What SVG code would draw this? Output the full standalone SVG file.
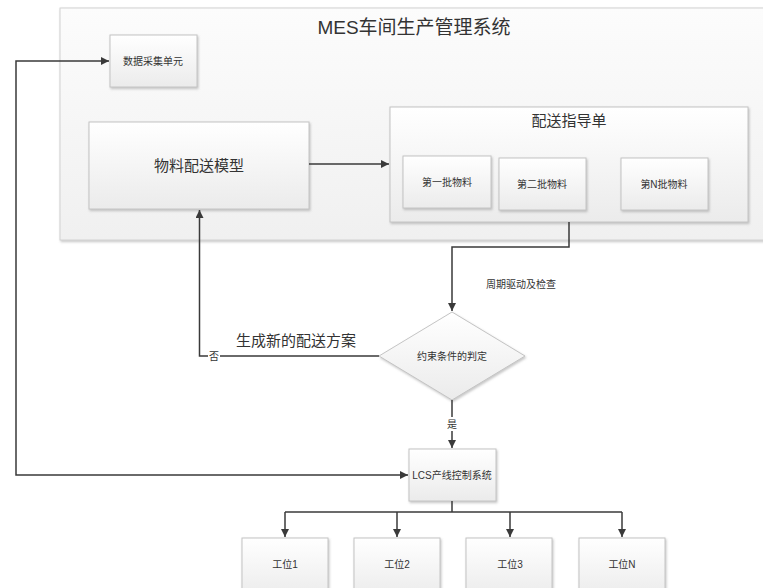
<svg xmlns="http://www.w3.org/2000/svg" width="763" height="588" viewBox="0 0 763 588">
<defs>
<linearGradient id="gBox" x1="0" y1="0" x2="0" y2="1">
<stop offset="0" stop-color="#ffffff"/>
<stop offset="1" stop-color="#ebebeb"/>
</linearGradient>
<linearGradient id="gOuter" x1="0" y1="0" x2="0" y2="1">
<stop offset="0" stop-color="#fcfcfc"/>
<stop offset="1" stop-color="#f0f0f0"/>
</linearGradient>
<filter id="sh" x="-10%" y="-10%" width="125%" height="125%">
<feDropShadow dx="1" dy="1.5" stdDeviation="0.8" flood-color="#808080" flood-opacity="0.45"/>
</filter>
<marker id="arr" viewBox="0 0 10 10" refX="10" refY="5" markerWidth="8" markerHeight="8" markerUnits="userSpaceOnUse" orient="auto-start-reverse">
<path d="M0,0 L10,5 L0,10 Z" fill="#3a3a3a"/>
</marker>
<style>
.box{fill:url(#gBox);stroke:#c4c4c4;stroke-width:1;filter:url(#sh)}
.outer{fill:url(#gOuter);stroke:#d2d2d2;stroke-width:1;filter:url(#sh)}
.t{font-family:"Liberation Sans","Noto Sans CJK SC",sans-serif;fill:#333333;text-anchor:middle;dominant-baseline:central}
.s10{font-size:10px}
.s15{font-size:15px}
.s19{font-size:19px}
.ln{fill:none;stroke:#3a3a3a;stroke-width:1.5}
</style>
</defs>
<rect width="763" height="588" fill="#ffffff"/>

<g id="mes">
<rect class="outer" x="60" y="8" width="720" height="232"/>
<text class="t s19" x="414" y="27">MES车间生产管理系统</text>
</g>

<g id="data">
<rect class="box" x="110" y="35" width="87" height="52"/>
<text class="t s10" x="153" y="61">数据采集单元</text>
</g>

<g id="model">
<rect class="box" x="89" y="122" width="220" height="87"/>
<text class="t s15" x="199" y="165">物料配送模型</text>
</g>

<g id="guide">
<rect class="box" x="390" y="107" width="358" height="115"/>
<text class="t s15" x="569" y="120">配送指导单</text>
</g>

<g id="batch1">
<rect class="box" x="403" y="156" width="88" height="52"/>
<text class="t s10" x="447" y="182">第一批物料</text>
</g>

<g id="batch2">
<rect class="box" x="499" y="158" width="87" height="52"/>
<text class="t s10" x="542" y="184">第二批物料</text>
</g>

<g id="batchN">
<rect class="box" x="621" y="158" width="87" height="52"/>
<text class="t s10" x="664" y="184">第N批物料</text>
</g>

<g id="decision">
<path d="M452,312 L525,356 L452,400 L379,356 Z" fill="url(#gBox)" stroke="#c4c4c4" stroke-width="1" filter="url(#sh)"/>
<text class="t s10" x="452" y="356">约束条件的判定</text>
</g>

<g id="lcs">
<rect class="box" x="409" y="449" width="87" height="52"/>
<text class="t s10" x="452" y="475">LCS产线控制系统</text>
</g>

<g id="ws1">
<rect class="box" x="242" y="538" width="86" height="60"/>
<text class="t s10" x="285" y="564">工位1</text>
</g>
<g id="ws2">
<rect class="box" x="354" y="538" width="86" height="60"/>
<text class="t s10" x="397" y="564">工位2</text>
</g>
<g id="ws3">
<rect class="box" x="466" y="538" width="86" height="60"/>
<text class="t s10" x="510" y="564">工位3</text>
</g>
<g id="wsN">
<rect class="box" x="579" y="538" width="86" height="60"/>
<text class="t s10" x="622" y="564">工位N</text>
</g>

<g id="connectors">
<path class="ln" d="M309,164 H389" marker-end="url(#arr)"/>
<path class="ln" d="M569,222 V247 H452 V311" marker-end="url(#arr)"/>
<path class="ln" d="M379,356 H199.5 V210" marker-end="url(#arr)"/>
<path class="ln" d="M452,400 V448" marker-end="url(#arr)"/>
<path class="ln" d="M408,475 H16 V61 H109" marker-start="url(#arr)" marker-end="url(#arr)"/>
<path class="ln" d="M452,501 V512"/>
<path class="ln" d="M285,512 H622"/>
<path class="ln" d="M285,512 V537" marker-end="url(#arr)"/>
<path class="ln" d="M397,512 V537" marker-end="url(#arr)"/>
<path class="ln" d="M510,512 V537" marker-end="url(#arr)"/>
<path class="ln" d="M622,512 V537" marker-end="url(#arr)"/>
<rect x="208" y="349" width="12" height="14" fill="#ffffff"/>
<text class="t s10" x="214" y="356">否</text>
<rect x="446" y="417" width="12" height="14" fill="#ffffff"/>
<text class="t s10" x="452" y="424">是</text>
<text class="t s10" x="521" y="284">周期驱动及检查</text>
<text class="t s15" x="296" y="340">生成新的配送方案</text>
</g>
</svg>
